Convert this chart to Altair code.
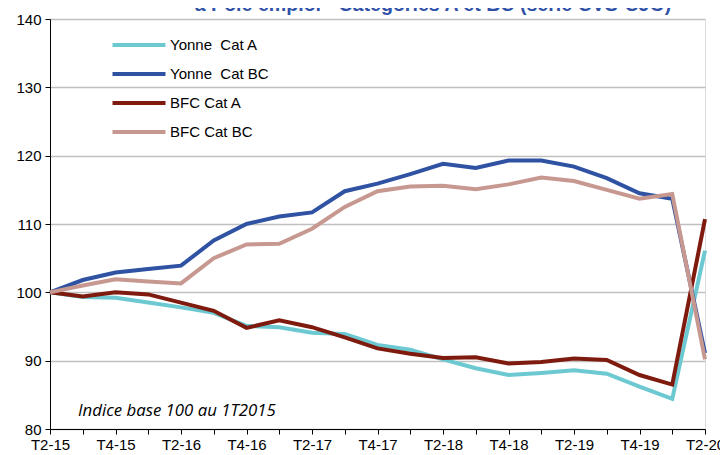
import altair as alt
import pandas as pd

quarters = ["T2-15", "T3-15", "T4-15", "T1-16", "T2-16", "T3-16", "T4-16",
            "T1-17", "T2-17", "T3-17", "T4-17", "T1-18", "T2-18", "T3-18",
            "T4-18", "T1-19", "T2-19", "T3-19", "T4-19", "T1-20", "T2-20"]
shown_labels = ["T2-15", "T4-15", "T2-16", "T4-16", "T2-17", "T4-17",
                "T2-18", "T4-18", "T2-19", "T4-19", "T2-20"]

yonne_a = [100.0, 99.3, 99.2, 98.5, 97.8, 97.0, 95.1, 94.9, 94.1, 93.9, 92.3,
           91.6, 90.2, 88.9, 87.9, 88.2, 88.6, 88.1, 86.2, 84.4, 106.1]
yonne_bc = [100.0, 101.8, 102.9, 103.4, 103.9, 107.6, 110.0, 111.1, 111.7, 114.8, 115.9,
            117.3, 118.8, 118.2, 119.3, 119.3, 118.4, 116.7, 114.5, 113.7, 91.1]
bfc_a = [100.0, 99.4, 100.0, 99.7, 98.5, 97.3, 94.8, 95.9, 94.9, 93.4, 91.8,
         91.0, 90.4, 90.5, 89.6, 89.8, 90.3, 90.1, 87.9, 86.5, 110.7]
bfc_bc = [100.0, 101.0, 101.9, 101.6, 101.3, 105.0, 107.0, 107.1, 109.3, 112.5, 114.8,
          115.5, 115.6, 115.1, 115.8, 116.8, 116.3, 115.0, 113.7, 114.4, 90.2]

series_names = ["Yonne\u00a0\u00a0Cat A", "Yonne\u00a0\u00a0Cat BC", "BFC Cat A", "BFC Cat BC"]
series_colors = ["#6CC9D1", "#2F52A3", "#7E1B0E", "#C79890"]
y_ticks = [80, 90, 100, 110, 120, 130, 140]

title_text = "à Pôle emploi - Catégories A et BC (série CVS-CJO)"
note_text = "Indice base 100 au 1T2015"

rows = []
for name, vals in zip(series_names, [yonne_a, yonne_bc, bfc_a, bfc_bc]):
    for q, v in zip(quarters, vals):
        rows.append({"serie": name, "trimestre": q, "valeur": v})
df = pd.DataFrame(rows)

label_list = "[" + ",".join("'" + s + "'" for s in shown_labels) + "]"

x_enc = alt.X("trimestre:N", sort=quarters,
              scale=alt.Scale(type="point", padding=0),
              axis=alt.Axis(title=None, labelAngle=0, domainColor="#000000",
                            tickColor="#000000", tickSize=5, labelFontSize=15,
                            labelFont="Liberation Sans", labelColor="#000000",
                            labelPadding=3,
                            labelExpr="indexof(" + label_list + ", datum.value) >= 0 ? datum.label : ''"))
y_enc = alt.Y("valeur:Q",
              scale=alt.Scale(domain=[80, 140], nice=False, zero=False),
              axis=alt.Axis(title=None, values=y_ticks, grid=True, gridColor="#C0C0C0",
                            gridWidth=1.3, domainColor="#000000", tickColor="#000000",
                            tickSize=5, labelFontSize=15, labelFont="Liberation Sans",
                            labelColor="#000000", labelPadding=4))

lines = alt.Chart(df).mark_line(strokeWidth=4, strokeJoin="miter").encode(
    x=x_enc,
    y=y_enc,
    color=alt.Color("serie:N", sort=series_names,
                    scale=alt.Scale(domain=series_names, range=series_colors),
                    legend=alt.Legend(title=None, orient="none", legendX=77, legendY=14,
                                      symbolType="M-2.65,0H2.65", symbolSize=400,
                                      symbolStrokeWidth=4, labelFontSize=15,
                                      labelFont="Liberation Sans", labelColor="#000000",
                                      rowPadding=9, labelOffset=19)),
)

title_df = pd.DataFrame({"t": [title_text]})
title = alt.Chart(title_df).mark_text(fontSize=19.6, fontWeight="bold", font="Liberation Sans",
                                      color="#2F52A8", align="center", baseline="alphabetic").encode(
    x=alt.value(383), y=alt.value(-8), text="t:N")

note_df = pd.DataFrame({"t": [note_text]})
note = alt.Chart(note_df).mark_text(fontSize=16.8, fontStyle="italic", font="Open Sans",
                                    color="#000000", align="left", baseline="alphabetic").encode(
    x=alt.value(28), y=alt.value(397), text="t:N")

chart = alt.layer(lines, title, note).properties(
    width=655, height=410,
    autosize=alt.AutoSizeParams(type="none"),
    padding={"left": 42, "top": 11, "right": 15, "bottom": 26},
).configure_view(stroke=None).configure(background="#FFFFFF")

chart.save("out.html", embed_options={"renderer": "svg", "actions": False})
